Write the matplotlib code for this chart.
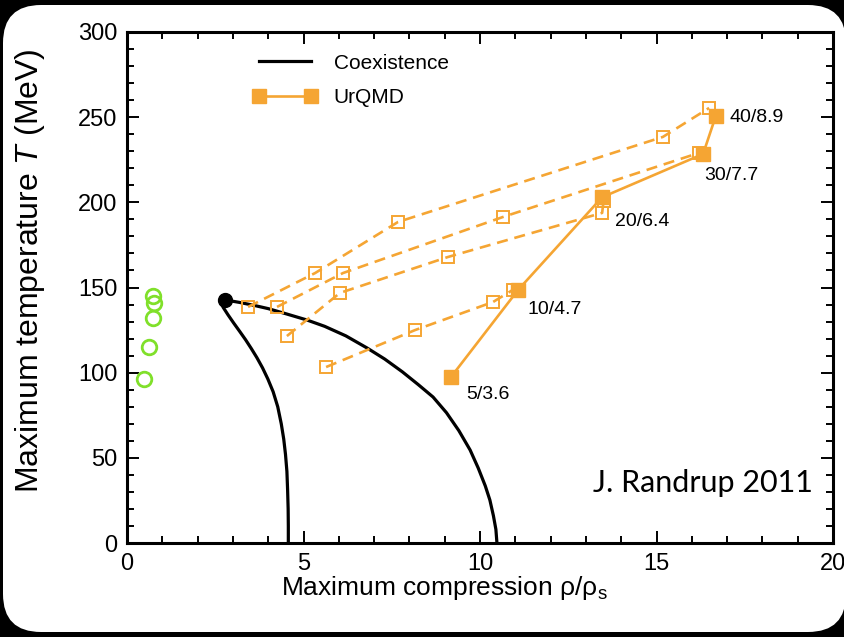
import matplotlib.pyplot as plt
from matplotlib.patches import FancyBboxPatch
from matplotlib.transforms import IdentityTransform
from matplotlib.ticker import MultipleLocator

plt.rcParams['font.family'] = ['Liberation Sans', 'DejaVu Sans']
plt.rcParams['mathtext.fontset'] = 'custom'
plt.rcParams['mathtext.it'] = 'Liberation Sans:italic'
plt.rcParams['mathtext.rm'] = 'Liberation Sans'

# coexistence curve: left branch (bottom -> critical point), then right branch
coex_x = [4.57, 4.57, 4.565, 4.55, 4.53, 4.49, 4.44, 4.37, 4.27, 4.14, 3.99,
          3.84, 3.68, 3.52, 3.36, 3.19, 3.02, 2.86, 2.72, 2.70, 2.78,
          3.20, 3.60, 4.00, 4.50, 5.10, 5.60, 6.20, 6.80, 7.30, 7.80, 8.25,
          8.67, 9.05, 9.40, 9.72, 9.95, 10.15, 10.28, 10.38, 10.45, 10.48]
coex_T = [0, 10, 20, 31, 42, 52, 61, 70, 80, 88.8, 96.3,
          102.8, 108.8, 114.2, 119.3, 124.3, 129.2, 134, 138.5, 141, 142.7,
          141.2, 139.5, 137.6, 134.6, 130.9, 127.2, 121.6, 114.5, 108, 100.5, 93,
          85.7, 76.5, 66, 54.6, 44, 33.5, 25.2, 16, 8, 0]
crit_x, crit_T = 2.78, 142.7

# green open circles
green_x = [0.74, 0.76, 0.74, 0.62, 0.48]
green_T = [145, 141, 132, 115, 96]

# UrQMD end points (filled squares)
urqmd_x = [9.18, 11.08, 13.46, 16.32, 16.68]
urqmd_T = [97.5, 148.6, 203.0, 228.4, 250.7]
urqmd_lab = ['5/3.6', '10/4.7', '20/6.4', '30/7.7', '40/8.9']

# dashed UrQMD tracks (open squares)
d40_x = [3.43, 5.33, 7.68, 15.18, 16.49]
d40_T = [138.6, 158.5, 188.5, 238.4, 255.4]
d30_x = [4.25, 6.12, 10.65, 16.20]
d30_T = [138.6, 158.5, 191.4, 229.0]
d20_x = [4.53, 6.03, 9.09, 13.46, 13.50]
d20_T = [121.5, 146.8, 167.9, 193.8, 200.8]
d10_x = [5.64, 8.16, 10.37, 10.93]
d10_T = [103.3, 125.0, 141.5, 148.6]

orange = '#F5A533'

fig = plt.figure(figsize=(8.45, 6.37), dpi=100, facecolor='black')
fig.add_artist(FancyBboxPatch((3, 5), 843, 627,
                              boxstyle='round,pad=0,rounding_size=38',
                              transform=IdentityTransform(),
                              fc='white', ec='none', zorder=-5))

ax = fig.add_axes([127/845, 1 - 543/637, 706/845, 511/637])

# coexistence
ax.plot(coex_x, coex_T, color='black', lw=2.3, label='Coexistence', zorder=2)
ax.plot(crit_x, crit_T, 'o', color='black', ms=10, zorder=3)

# green circles
ax.plot(green_x, green_T, 'o', mfc='none', mec='#80E02A', mew=2.0, ms=10.5,
        ls='none', zorder=3)

# dashed tracks
for xs, ts in [(d40_x, d40_T), (d30_x, d30_T), (d20_x, d20_T), (d10_x, d10_T)]:
    ax.plot(xs, ts, color=orange, lw=1.9, ls=(0, (4.2, 2.6)),
            marker='s', ms=9, mfc='none', mec=orange, mew=1.4, zorder=4)

# solid UrQMD
ax.plot(urqmd_x, urqmd_T, color=orange, lw=1.9, marker='s', ms=9.5,
        mfc=orange, mec=orange, label='UrQMD', zorder=5)

offsets = [(10.8, -13), (6.5, -14.4), (9.4, -17.3), (0.7, -15.8), (10, -1.4)]
for x, t, lab, off in zip(urqmd_x, urqmd_T, urqmd_lab, offsets):
    ax.annotate(lab, (x, t), xytext=off, textcoords='offset points',
                ha='left', va='center', fontsize=14)

ax.text(0.972, 0.117, 'J. Randrup 2011', transform=ax.transAxes,
        ha='right', va='center', fontsize=22, family='Lato')

ax.set_xlim(0, 20)
ax.set_ylim(0, 300)
ax.xaxis.set_major_locator(MultipleLocator(5))
ax.xaxis.set_minor_locator(MultipleLocator(1))
ax.yaxis.set_major_locator(MultipleLocator(50))
ax.yaxis.set_minor_locator(MultipleLocator(10))
ax.tick_params(which='both', direction='in', top=True, right=True,
               width=1.4, labelsize=17)
ax.tick_params(which='major', length=8.5, pad=7)
ax.tick_params(which='minor', length=5)
for s in ax.spines.values():
    s.set_linewidth(2.2)

ax.set_xlabel('Maximum compression ρ/ρ$_{\\rm s}$', fontsize=19)
ax.xaxis.set_label_coords(0.45, -0.06)
ax.set_ylabel(r'Maximum temperature $T$ (MeV)', fontsize=23)
ax.yaxis.set_label_coords(-0.113, 0.532)

ax.legend(loc='upper left', bbox_to_anchor=(0.163, 0.978), frameon=False,
          fontsize=15, handlelength=3.1, handletextpad=0.8, borderpad=0,
          labelspacing=0.75, numpoints=2)

fig.savefig('out.png', dpi=100, facecolor='black')
